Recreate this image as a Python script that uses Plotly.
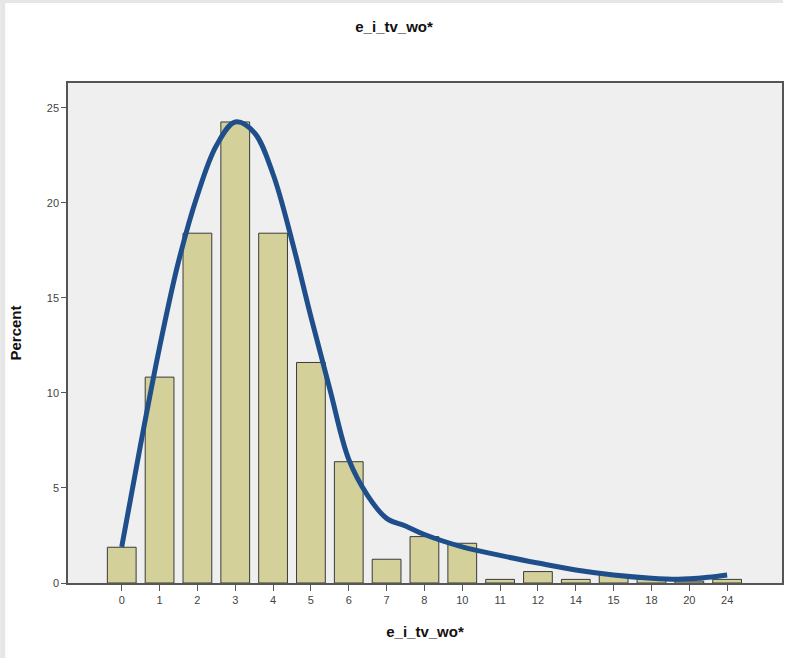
import plotly.graph_objects as go

categories = ["0", "1", "2", "3", "4", "5", "6", "7", "8", "10", "11", "12", "14", "15", "18", "20", "24"]
percent = [1.88, 10.83, 18.4, 24.25, 18.4, 11.6, 6.38, 1.25, 2.44, 2.09, 0.19, 0.6, 0.19, 0.42, 0.2, 0.1, 0.19]
# fitted curve, read at positions along the category axis (category index units)
curve_pos = [0, 0.5, 1, 1.5, 2, 2.5, 3, 3.5, 4, 4.5, 5, 5.5, 6, 6.5, 7, 7.5, 8, 9, 10, 11, 12, 13, 14, 14.7, 15, 15.5, 16]
curve_val = [1.9, 7.3, 12.4, 16.9, 20.4, 23.0, 24.25, 23.7, 21.5, 18.0, 14.0, 10.2, 6.5, 4.6, 3.4, 3.0, 2.55,
             1.9, 1.45, 1.05, 0.68, 0.42, 0.25, 0.2, 0.22, 0.3, 0.42]
y_ticks = [0, 5, 10, 15, 20, 25]

idx = list(range(len(categories)))

fig = go.Figure()
fig.add_trace(go.Bar(
    x=idx, y=percent, width=0.76,
    marker=dict(color="#d4d09a", line=dict(color="#3a3a3a", width=1)),
    showlegend=False,
))
fig.add_trace(go.Scatter(
    x=curve_pos, y=curve_val, mode="lines",
    line=dict(color="#1f4f8b", width=5, shape="spline", smoothing=1.0),
    showlegend=False,
))

fig.update_layout(
    width=785, height=658,
    margin=dict(l=68, r=1, t=83, b=75),
    paper_bgcolor="white",
    plot_bgcolor="#efefef",
    font=dict(family="Liberation Sans, Arial", color="#333333"),
    title=dict(text="<b>e_i_tv_wo*</b>", x=0.502, xanchor="center", y=0.959, yanchor="middle",
               font=dict(size=15, color="#111111")),
    xaxis=dict(
        range=[-1.42, 17.45], tickmode="array", tickvals=idx, ticktext=categories,
        showline=True, linecolor="#555555", linewidth=1.5, mirror=True,
        ticks="outside", ticklen=6, tickcolor="#555555", tickwidth=1,
        tickfont=dict(size=11, color="#444444"), showgrid=False, zeroline=False,
        title=dict(text="<b>e_i_tv_wo*</b>", font=dict(size=15, color="#111111"), standoff=22),
    ),
    yaxis=dict(
        range=[0, 26.3], tickmode="array", tickvals=y_ticks,
        showline=True, linecolor="#555555", linewidth=1.5, mirror=True,
        ticks="outside", ticklen=5, tickcolor="#555555", tickwidth=1,
        tickfont=dict(size=11, color="#444444"), showgrid=False, zeroline=False,
        title=dict(text="<b>Percent</b>", font=dict(size=15, color="#111111"), standoff=22),
    ),
    shapes=[
        dict(type="rect", xref="paper", yref="paper", x0=-68/716, x1=1 + 1/716, y0=1 + 80/500, y1=1 + 83/500,
             fillcolor="#e6e6e6", line=dict(width=0), layer="above"),
        dict(type="rect", xref="paper", yref="paper", x0=-68/716, x1=-63/716, y0=-75/500, y1=1 + 83/500,
             fillcolor="#e6e6e6", line=dict(width=0), layer="above"),
    ],
)

fig.write_html("out.html")
